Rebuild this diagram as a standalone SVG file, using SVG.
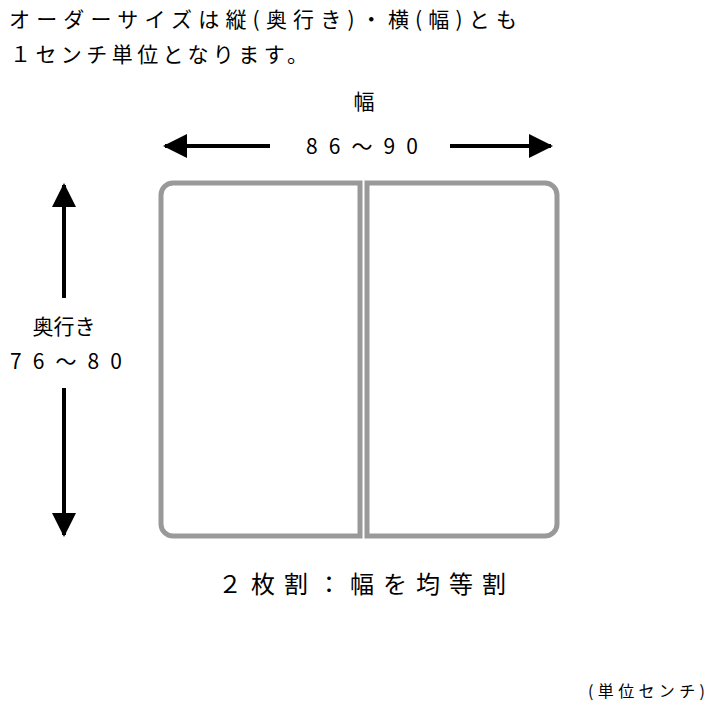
<svg xmlns="http://www.w3.org/2000/svg" width="720" height="720" viewBox="0 0 720 720">
<style>
text{font-family:"Noto Sans CJK JP","Noto Sans",sans-serif;fill:#000;}
.panel{fill:#fff;stroke:#999;stroke-width:5;stroke-linejoin:miter;}
.arr{stroke:#000;stroke-width:4;fill:none;}
</style>
<defs>
<marker id="ah" markerWidth="6" markerHeight="6" viewBox="0 0 6 6" refX="5.5" refY="3" orient="auto" markerUnits="strokeWidth">
<path d="M0,0 L6,3 L0,6 Z" fill="#000"/>
</marker>
</defs>
<rect width="720" height="720" fill="#fff"/>
<g id="title">
<text x="9" y="27" font-size="21" textLength="508" lengthAdjust="spacing">オーダーサイズは縦(奥行き)・横(幅)とも</text>
<text x="10" y="62" font-size="21" textLength="298" lengthAdjust="spacing">１センチ単位となります。</text>
</g>
<g id="panel-left"><path class="panel" d="M360,183 H173 A12,12 0 0 0 161,195 V524 A12,12 0 0 0 173,536 H360 Z"/></g>
<g id="panel-right"><path class="panel" d="M367,183 H545 A12,12 0 0 1 557,195 V524 A12,12 0 0 1 545,536 H367 Z"/></g>
<g id="connectors">
<line class="arr" x1="270" y1="146" x2="165" y2="146" marker-end="url(#ah)"/>
<line class="arr" x1="450" y1="146" x2="551" y2="146" marker-end="url(#ah)"/>
<line class="arr" x1="64" y1="298" x2="64" y2="185" marker-end="url(#ah)"/>
<line class="arr" x1="64" y1="388" x2="64" y2="535" marker-end="url(#ah)"/>
</g>
<g id="width-label">
<text x="364" y="109" font-size="21" text-anchor="middle">幅</text>
<text x="306" y="154" font-size="21" textLength="112" lengthAdjust="spacing">86～90</text>
</g>
<g id="depth-label">
<text x="64" y="334" font-size="21" text-anchor="middle">奥行き</text>
<text x="10" y="369" font-size="21" textLength="112" lengthAdjust="spacing">76～80</text>
</g>
<g id="caption">
<text x="218" y="593" font-size="24" textLength="288" lengthAdjust="spacing">２枚割：幅を均等割</text>
</g>
<g id="unit">
<text x="588" y="697" font-size="16" textLength="117" lengthAdjust="spacing">(単位センチ)</text>
</g>
</svg>
